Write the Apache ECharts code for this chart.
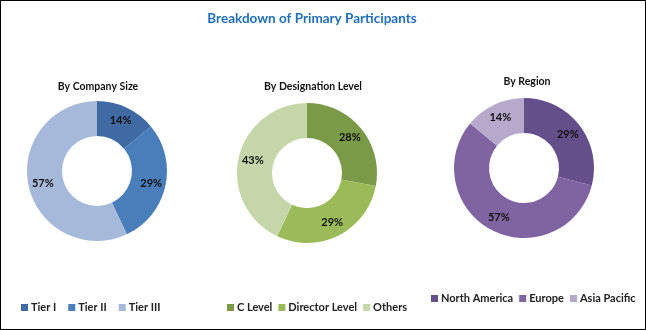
<!DOCTYPE html>
<html>
<head>
<meta charset="utf-8">
<script src="https://cdn.jsdelivr.net/npm/echarts@6/dist/echarts.min.js"></script>
<style>
  html, body { margin: 0; padding: 0; background: #fff; }
  #chart { width: 646px; height: 330px; box-sizing: border-box; border: 1px solid #000; }
</style>
</head>
<body>
<div id="chart"></div>
<script>
// Participant breakdowns (percent shares)
const companySizeLabels = ['Tier I', 'Tier II', 'Tier III'];
const companySizeValues = [14, 29, 57];

const designationLabels = ['C Level', 'Director Level', 'Others'];
const designationValues = [28, 29, 43];

const regionLabels = ['North America', 'Europe', 'Asia Pacific'];
const regionValues = [29, 57, 14];

const companySizeColors = ['#3F6AA3', '#4A7EBB', '#A7B9DA'];
const designationColors = ['#7A9A48', '#9BBB59', '#C5D6A9'];
const regionColors = ['#654F8B', '#8064A2', '#B6A9CC'];

const FONT = 'Lato, "Open Sans", sans-serif';

function toData(labels, values, colors) {
  return labels.map((name, i) => ({ name, value: values[i], itemStyle: { color: colors[i] } }));
}

function donut(name, labels, values, colors, center) {
  return {
    name,
    type: 'pie',
    center,
    radius: [35, 70],
    startAngle: 90,
    clockwise: true,
    silent: true,
    data: toData(labels, values, colors),
    label: {
      show: true,
      position: 'inside',
      formatter: '{c}%',
      color: '#111',
      fontFamily: FONT,
      fontWeight: 'bold',
      fontSize: 11
    },
    labelLine: { show: false },
    itemStyle: { borderWidth: 0 }
  };
}

function legend(labels, left, top, gap) {
  return {
    data: labels,
    left, top,
    width: 260,
    padding: 0,
    orient: 'horizontal',
    icon: 'rect',
    itemWidth: 7,
    itemHeight: 7,
    itemGap: gap,
    selectedMode: false,
    textStyle: { fontFamily: FONT, fontWeight: 'bold', fontSize: 11, color: '#222', padding: [0, 0, 0, -2] }
  };
}

const subTitle = (text, x, y) => ({
  text, left: x, top: y, textAlign: 'center',
  textStyle: { fontFamily: FONT, fontWeight: 'bold', fontSize: 10.5, color: '#111' }
});

const chart = echarts.init(document.getElementById('chart'), null, { renderer: 'canvas' });
chart.setOption({
  animation: false,
  backgroundColor: '#fff',
  title: [
    { text: 'Breakdown of Primary Participants', left: 306, top: 6, textAlign: 'center',
      textStyle: { fontFamily: FONT, fontWeight: 'bold', fontSize: 13.5, color: '#1F6FBE' } },
    subTitle('By Company Size', 92, 75),
    subTitle('By Designation Level', 307, 75),
    subTitle('By Region', 521, 70)
  ],
  legend: [
    legend(companySizeLabels, 20, 301, 12),
    legend(designationLabels, 226, 301, 6),
    legend(regionLabels, 430, 292, 6)
  ],
  series: [
    donut('By Company Size', companySizeLabels, companySizeValues, companySizeColors, [96, 170]),
    donut('By Designation Level', designationLabels, designationValues, designationColors, [306, 172]),
    donut('By Region', regionLabels, regionValues, regionColors, [523, 167])
  ]
});
</script>
</body>
</html>
